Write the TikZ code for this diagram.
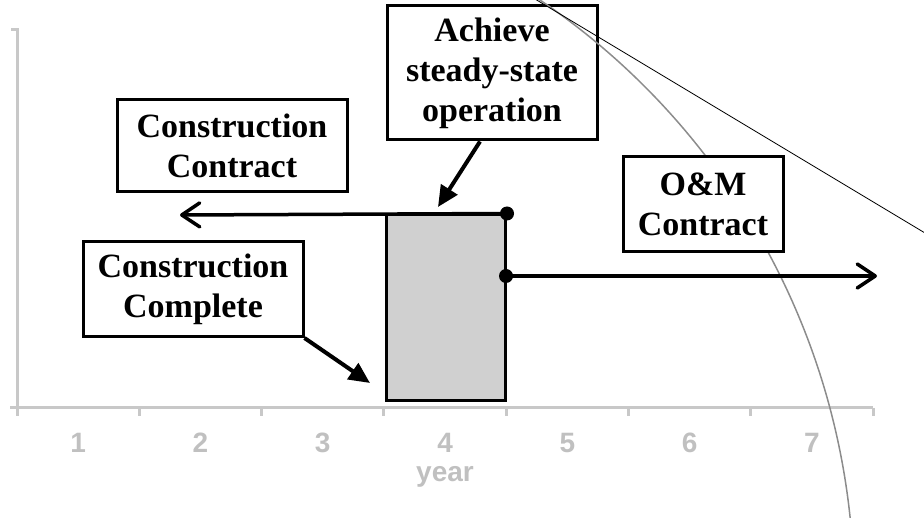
\documentclass[tikz,border=0pt]{standalone}
\usepackage{fontspec}
\setmainfont{Liberation Serif}
\newfontfamily\axisfont{Liberation Sans}
\usetikzlibrary{arrows.meta}
\definecolor{axisgray}{HTML}{C8C8C8}
\definecolor{labelgray}{HTML}{C0C0C0}
\definecolor{phasegray}{HTML}{D0D0D0}
\definecolor{curvegray}{HTML}{8C8C8C}
\begin{document}
\begin{tikzpicture}[x=1pt,y=-1pt,
    note/.style={draw,line width=3pt,fill=white,align=center,inner sep=0pt,
      font=\fontsize{34}{40}\selectfont\bfseries},
    lead/.style={line width=3.5pt,line cap=round,
      -{Straight Barb[length=18pt,width=24pt,line width=3.5pt,round]}},
    pointer/.style={line width=4pt,-{Triangle[length=21pt,width=19pt]}},
    yearlbl/.style={text=labelgray,font=\fontsize{28}{28}\selectfont\axisfont\bfseries}]
    \useasboundingbox (0,0) rectangle (924,518);

    % axes
    \draw[axisgray,line width=3pt] (11,30) -- (17,30) -- (17,416);
    \draw[axisgray,line width=3pt] (10,408) -- (873,408);
    \foreach \t in {1,...,7}
        \draw[axisgray,line width=3pt] ({17+122.3*\t},408) -- ++(0,8);
    \foreach \n in {1,...,7}
        \node[yearlbl] (yr\n) at ({17+122.3*(\n-0.5)},443) {\n};
    \node[yearlbl] (axisname) at (445,477) {year};

    % start-up year
    \node[draw,line width=3pt,fill=phasegray,minimum width=119,minimum height=186,inner sep=0pt] (phase) at (446,308) {};

    \node[note,minimum width=210,minimum height=134] (steady) at (492,73) {Achieve\\steady-state\\operation};

    \begin{scope}
        \clip (0,0) rectangle (924,518);
        \draw[curvegray,line width=1.5pt] (139,592) ++(-58:715) arc (-58:-3:715);
        \draw[line width=0.8pt] (520,-10) -- (940,242);
    \end{scope}

    \node[note,minimum width=160,minimum height=95] (omcontract) at (703,204) {O\&M\\Contract};
    \node[note,minimum width=230,minimum height=92] (contract) at (232,146) {Construction\\Contract};
    \node[note,minimum width=220,minimum height=95] (complete) at (193,289) {Construction\\Complete};

    \coordinate (ccend) at (180,215);
    \coordinate (omstart) at (506,276);
    \coordinate (omend) at (877,276);
    \coordinate (steadytip) at (438,207);
    \coordinate (completetip) at (370,383);

    \draw[lead] (phase.north east) -- (ccend);
    \draw[lead] (omstart) -- (omend);
    \draw[pointer] (steady.south) ++(-12,0) -- (steadytip);
    \draw[pointer] (complete.south east) -- (completetip);

    \fill (phase.north east) circle (7);
    \fill (omstart) circle (7);
\end{tikzpicture}
\end{document}
